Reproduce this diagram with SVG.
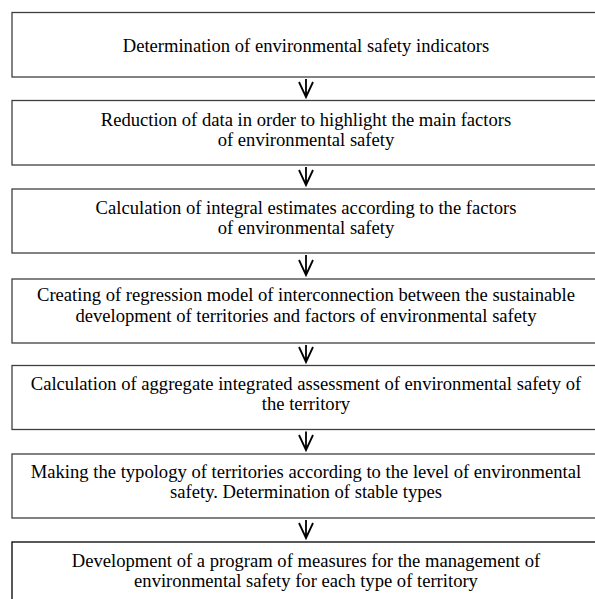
<svg xmlns="http://www.w3.org/2000/svg" width="595" height="599" viewBox="0 0 595 599">
  <style>
    .box { fill: #ffffff; stroke: #404040; stroke-width: 1.3; }
    .box-last { fill: #ffffff; stroke: #000000; stroke-width: 1.3; }
    .label { font-family: "Liberation Serif", "Times New Roman", serif; font-size: 18.6px; fill: #000000; text-anchor: middle; }
    .arrow { fill: none; stroke: #000000; stroke-width: 1.8; }
  </style>
  <rect x="0" y="0" width="595" height="599" fill="#ffffff"/>

  <!-- process steps -->
  <g id="step1">
    <rect class="box" x="12" y="12.5" width="600" height="64.5"/>
    <text class="label" x="306" y="52">Determination of environmental safety indicators</text>
  </g>
  <g id="step2">
    <rect class="box" x="12" y="100.5" width="600" height="64.5"/>
    <text class="label" x="306" y="126">Reduction of data in order to highlight the main factors</text>
    <text class="label" x="306" y="146">of environmental safety</text>
  </g>
  <g id="step3">
    <rect class="box" x="12" y="189" width="600" height="64"/>
    <text class="label" x="306" y="214">Calculation of integral estimates according to the factors</text>
    <text class="label" x="306" y="234">of environmental safety</text>
  </g>
  <g id="step4">
    <rect class="box" x="12" y="279" width="600" height="64"/>
    <text class="label" x="306" y="301">Creating of regression model of interconnection between the sustainable</text>
    <text class="label" x="306" y="322">development of territories and factors of environmental safety</text>
  </g>
  <g id="step5">
    <rect class="box" x="12" y="365.5" width="600" height="64"/>
    <text class="label" x="306" y="390">Calculation of aggregate integrated assessment of environmental safety of</text>
    <text class="label" x="306" y="410">the territory</text>
  </g>
  <g id="step6">
    <rect class="box" x="12" y="454" width="600" height="64"/>
    <text class="label" x="306" y="478">Making the typology of territories according to the level of environmental</text>
    <text class="label" x="306" y="498">safety. Determination of stable types</text>
  </g>
  <g id="step7">
    <rect class="box-last" x="12" y="542" width="600" height="100"/>
    <text class="label" x="306" y="567">Development of a program of measures for the management of</text>
    <text class="label" x="306" y="587">environmental safety for each type of territory</text>
  </g>

  <!-- connectors -->
  <g id="connectors">
    <path class="arrow" d="M306 79 V97 M299 82 L306 97 L313 82"/>
    <path class="arrow" d="M306 167 V185 M299 170 L306 185 L313 170"/>
    <path class="arrow" d="M306 255 V275 M299 260 L306 275 L313 260"/>
    <path class="arrow" d="M306 345 V362 M299 347 L306 362 L313 347"/>
    <path class="arrow" d="M306 431.5 V450 M299 435 L306 450 L313 435"/>
    <path class="arrow" d="M306 520 V538 M299 523 L306 538 L313 523"/>
  </g>
</svg>
